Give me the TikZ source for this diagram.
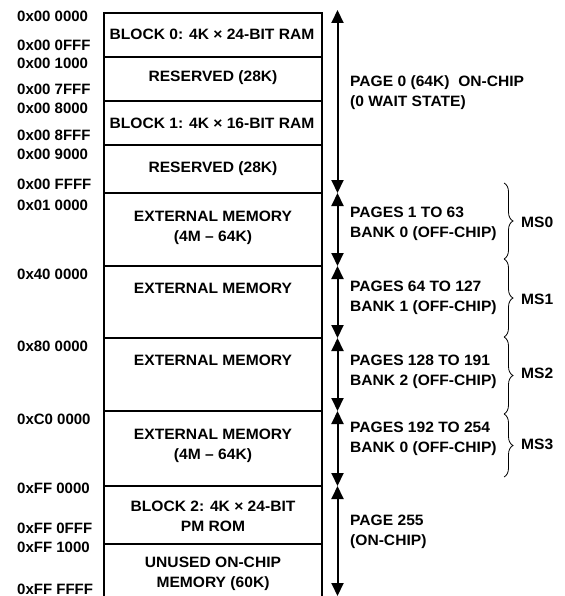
\documentclass[tikz,border=0pt]{standalone}
\usepackage{fontspec}
\setmainfont{Liberation Sans}
\newfontfamily\lblfont{Liberation Sans}[FakeStretch=1.04]
\usetikzlibrary{arrows.meta,decorations.pathreplacing}
\begin{document}
\begin{tikzpicture}[x=1pt,y=-1pt,
  boxline/.style={line width=2.2pt, line join=miter},
  boxtxt/.style={font=\lblfont\bfseries\fontsize{15}{20}\selectfont, align=center, inner sep=0pt},
  addr/.style={font=\bfseries\fontsize{15}{16}\selectfont, anchor=west, inner sep=0pt},
  pagetxt/.style={font=\lblfont\bfseries\fontsize{15}{20}\selectfont, align=left, anchor=west, inner sep=0pt},
  dimarrow/.style={line width=2pt, {Triangle[width=12pt,length=13pt]}-{Triangle[width=12pt,length=13pt]}},
  msbrace/.style={decorate, decoration={brace, amplitude=9pt}, line width=0.8pt},
  mstxt/.style={font=\lblfont\bfseries\fontsize{15}{16}\selectfont, anchor=west, inner sep=0pt}
]
\useasboundingbox[fill=white] (0,0) rectangle (564,596);

% memory box
\draw[boxline] (104,600) -- (104,13) -- (322,13) -- (322,600);
\foreach \yy in {57,101,145,193,266,338,411,486,544}
  \draw[boxline] (104,\yy) -- (322,\yy);

% box texts
\node[boxtxt] (blk0) at (212,34) {BLOCK 0: 4K × 24-BIT RAM};
\node[boxtxt] (res1) at (213,78) {RESERVED (28K)};
\node[boxtxt] (blk1) at (212,123) {BLOCK 1: 4K × 16-BIT RAM};
\node[boxtxt] (res2) at (213,169) {RESERVED (28K)};
\node[boxtxt] (ext1) at (213,227.5) {EXTERNAL MEMORY\\(4M – 64K)};
\node[boxtxt] (ext2) at (213,288) {EXTERNAL MEMORY};
\node[boxtxt] (ext3) at (213,360) {EXTERNAL MEMORY};
\node[boxtxt] (ext4) at (213,445.5) {EXTERNAL MEMORY\\(4M – 64K)};
\node[boxtxt] (blk2) at (213,516) {BLOCK 2: 4K × 24-BIT\\PM ROM};
\node[boxtxt] (unused) at (213,573.5) {UNUSED ON-CHIP\\MEMORY (60K)};

% address labels
\node[addr] (a1) at (17,16) {0x00 0000};
\node[addr] (a2) at (17,45) {0x00 0FFF};
\node[addr] (a3) at (17,63.5) {0x00 1000};
\node[addr] (a4) at (17,89.5) {0x00 7FFF};
\node[addr] (a5) at (17,108) {0x00 8000};
\node[addr] (a6) at (17,135) {0x00 8FFF};
\node[addr] (a7) at (17,154) {0x00 9000};
\node[addr] (a8) at (17,184) {0x00 FFFF};
\node[addr] (a9) at (17,205) {0x01 0000};
\node[addr] (a10) at (17,274.5) {0x40 0000};
\node[addr] (a11) at (17,346.5) {0x80 0000};
\node[addr] (a12) at (17,419) {0xC0 0000};
\node[addr] (a13) at (17,488.5) {0xFF 0000};
\node[addr] (a14) at (17,528) {0xFF 0FFF};
\node[addr] (a15) at (17,547) {0xFF 1000};
\node[addr] (a16) at (17,589) {0xFF FFFF};

% page arrows
\coordinate (q0) at (337.5,10);
\coordinate (q1) at (337.5,193);
\coordinate (q2) at (337.5,266);
\coordinate (q3) at (337.5,338);
\coordinate (q4) at (337.5,411);
\coordinate (q5) at (337.5,486);
\coordinate (q6) at (337.5,596);
\draw[dimarrow] (q0) -- (q1);
\draw[dimarrow] (q1) -- (q2);
\draw[dimarrow] (q2) -- (q3);
\draw[dimarrow] (q3) -- (q4);
\draw[dimarrow] (q4) -- (q5);
\draw[dimarrow] (q5) -- (q6);

% page texts
\node[pagetxt] (p0) at (350,93) {PAGE 0 (64K)\ \ ON-CHIP\\(0 WAIT STATE)};
\node[pagetxt] (p1) at (350,223.5) {PAGES 1 TO 63\\BANK 0 (OFF-CHIP)};
\node[pagetxt] (p2) at (350,297.5) {PAGES 64 TO 127\\BANK 1 (OFF-CHIP)};
\node[pagetxt] (p3) at (350,371.5) {PAGES 128 TO 191\\BANK 2 (OFF-CHIP)};
\node[pagetxt] (p4) at (350,438.5) {PAGES 192 TO 254\\BANK 0 (OFF-CHIP)};
\node[pagetxt] (p5) at (350,531.5) {PAGE 255\\(ON-CHIP)};

% braces
\coordinate (r0) at (504,183);
\coordinate (r1) at (504,259);
\coordinate (r2) at (504,337);
\coordinate (r3) at (504,414);
\coordinate (r4) at (504,477);
\draw[msbrace] (r0) -- (r1);
\draw[msbrace] (r1) -- (r2);
\draw[msbrace] (r2) -- (r3);
\draw[msbrace] (r3) -- (r4);
\node[mstxt] (ms0) at (521,222) {MS0};
\node[mstxt] (ms1) at (521,299) {MS1};
\node[mstxt] (ms2) at (521,373) {MS2};
\node[mstxt] (ms3) at (521,444) {MS3};
\end{tikzpicture}
\end{document}
